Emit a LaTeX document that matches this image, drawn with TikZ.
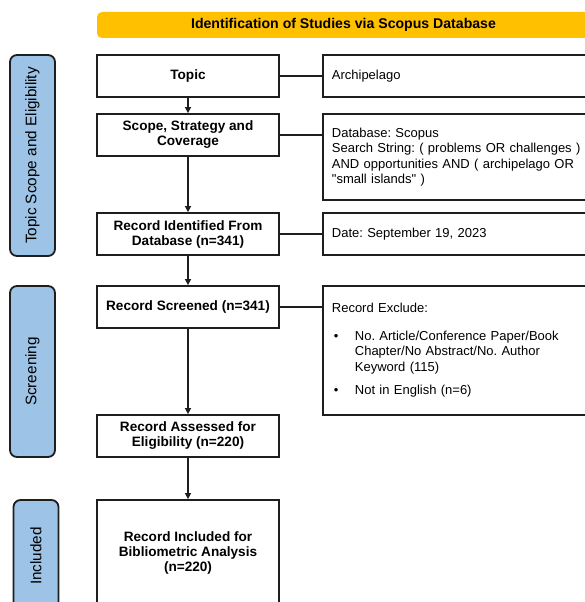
\documentclass[tikz,border=0pt]{standalone}
\usepackage{fontspec}
\setmainfont{Liberation Sans}[Ligatures=TeXOff]
\usetikzlibrary{arrows.meta}
\definecolor{gold}{HTML}{FFC000}
\definecolor{sideblue}{HTML}{9DC3E6}
\definecolor{edge}{HTML}{1E1E1E}
\frenchspacing
\tikzset{
  leftbox/.style={draw=edge, line width=1.8pt, minimum width=182pt, align=center,
    font=\fontsize{13.6pt}{15pt}\selectfont\bfseries, inner sep=0pt},
  rightbox/.style={draw=edge, line width=1.8pt, anchor=west, align=left, text width=262pt,
    inner xsep=9pt, inner ysep=0pt, font=\fontsize{13pt}{15.3pt}\selectfont},
  sidebox/.style={draw=edge, fill=sideblue, line width=1.8pt, rounded corners=7pt, rotate=90,
    minimum height=45pt, inner sep=0pt, font=\fontsize{15.3pt}{17pt}\selectfont},
  link/.style={draw=edge, line width=1.9pt},
  flow/.style={link, -{Triangle[length=6pt,width=6pt]}}
}
\begin{document}
\begin{tikzpicture}[x=1pt,y=-1pt]
\useasboundingbox (0,0) rectangle (585,602);
\clip (0,0) rectangle (585,602);
% banner
\node[fill=gold, rounded corners=5pt, minimum width=493pt, minimum height=26pt, inner sep=0pt,
  font=\fontsize{14.1pt}{15pt}\selectfont\bfseries] (banner) at (343.5,25) {Identification of Studies via Scopus Database};
% left column
\node[leftbox, minimum height=42pt] (topic) at (188,76) {Topic};
\node[leftbox, minimum height=42pt] (scope) at (188,135) {Scope, Strategy and\\Coverage};
\node[leftbox, minimum height=42pt] (ident) at (188,234) {Record Identified From\\Database (n=341)};
\node[leftbox, minimum height=42pt] (screen) at (188,307) {Record Screened (n=341)};
\node[leftbox, minimum height=42pt] (assess) at (188,436) {Record Assessed for\\Eligibility (n=220)};
\node[leftbox, minimum height=106pt] (incl) at (188,553) {Record Included for\\Bibliometric Analysis\\(n=220)};
% right column
\node[rightbox, minimum height=42pt] (arch) at (322,76) {Archipelago};
\node[rightbox, minimum height=86pt] (db) at (322,157) {Database: Scopus\\Search String: ( problems OR challenges )\\AND opportunities AND ( archipelago OR\\"small islands" )};
\node[rightbox, minimum height=42pt] (date) at (322,234) {Date: September 19, 2023};
\node[rightbox, minimum height=129pt] (excl) at (322,350.5) {Record Exclude:\\[12.5pt]
\hspace*{2pt}\makebox[21pt][l]{\textbullet}No. Article/Conference Paper/Book\\
\hspace*{23pt}Chapter/No Abstract/No. Author\\
\hspace*{23pt}Keyword (115)\\[8.5pt]
\hspace*{2pt}\makebox[21pt][l]{\textbullet}Not in English (n=6)};
% side labels
\node[sidebox, minimum width=201pt] (side1) at (32.5,155.5) {Topic Scope and Eligibility};
\node[sidebox, minimum width=171pt] (side2) at (32.5,371.5) {Screening};
\node[sidebox, minimum width=112pt] (side3) at (36,556) {Included};
% connectors
\draw[link] (topic.east) -- (topic.east -| arch.west);
\draw[link] (scope.east) -- (scope.east -| db.west);
\draw[link] (ident.east) -- (ident.east -| date.west);
\draw[link] (screen.east) -- (screen.east -| excl.west);
\draw[flow] (topic) -- (scope);
\draw[flow] (scope) -- (ident);
\draw[flow] (ident) -- (screen);
\draw[flow] (screen) -- (assess);
\draw[flow] (assess) -- (incl);
\end{tikzpicture}
\end{document}
